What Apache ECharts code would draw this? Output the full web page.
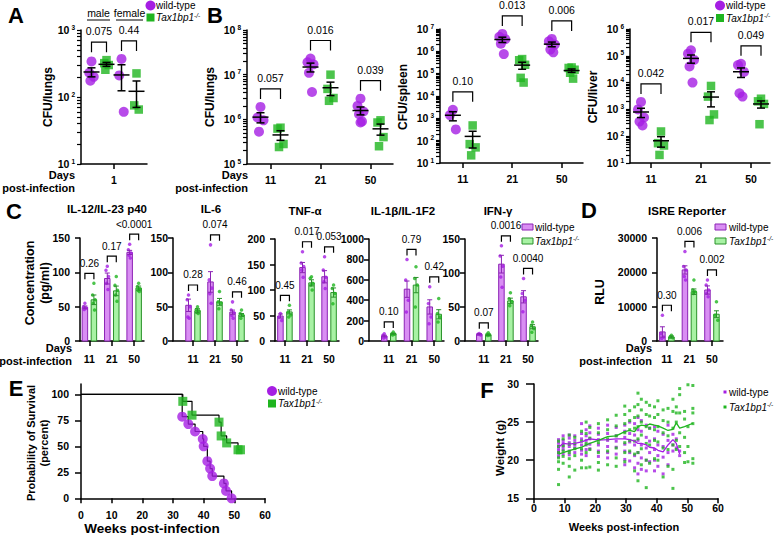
<!DOCTYPE html>
<html>
<head>
<meta charset="utf-8">
<script src="https://cdn.jsdelivr.net/npm/echarts@6.0.0/dist/echarts.min.js"></script>
<style>
html,body{margin:0;padding:0;background:#fff;}
#chart{width:775px;height:535px;}
</style>
</head>
<body>
<div id="chart"></div>
<script>
// ================= DATA =================
const dayLabels = ['11', '21', '50'];

// A: CFU/lungs, day 1, by sex
const aGroups = ['male', 'female'];
const aWt  = [[340, 230, 200, 175], [370, 210, 60]];
const aTax = [[355, 320, 300, 255], [225, 75, 65]];
const aP   = ['0.075', '0.44'];

// B: CFU per organ at days 11, 21, 50
const lungsWt  = [[1.9e6, 1.1e6, 9.5e5, 5.3e5], [2.3e7, 1.9e7, 1.7e7, 1.1e7, 4.1e6], [2.9e6, 2.0e6, 1.5e6, 1.3e6, 9.0e5, 8.5e5]];
const lungsTax = [[6.5e5, 6.2e5, 2.8e5, 2.4e5], [1.0e7, 4.8e6, 3.0e6, 2.6e6], [9.5e5, 8.5e5, 4.0e5, 2.5e5]];
const lungsP   = ['0.057', '0.016', '0.039'];
const spleenWt  = [[2.4e3, 1.4e3, 3.2e2], [6.0e6, 4.5e6, 3.5e6, 2.2e6, 7.5e5], [3.6e6, 2.8e6, 2.0e6, 1.2e6, 9.0e5]];
const spleenTax = [[480, 70, 50, 22], [4.5e5, 4.0e5, 2.5e5, 6.5e4, 4.0e4], [1.9e5, 1.8e5, 1.5e5, 1.1e5, 6.0e4]];
const spleenP   = ['0.10', '0.013', '0.006'];
const liverWt  = [[1.9e3, 1.0e3, 5.0e2, 3.5e2, 2.5e2], [1.6e5, 1.2e5, 7.0e4, 4.0e4, 1.0e4], [5.0e4, 4.5e4, 2.5e4, 4.0e3, 3.0e3]];
const liverTax = [[150, 55, 45, 20], [7.5e3, 3.0e3, 6.5e2, 4.0e2], [2.5e3, 2.0e3, 1.6e3, 2.8e2]];
const liverP   = ['0.042', '0.017', '0.049'];

// C: cytokines (pg/ml) — means, SEMs, individual mice
const il12WtMean = [49, 91, 129],  il12WtSem = [2, 8, 3];
const il12TaxMean = [60, 73, 77],  il12TaxSem = [7, 7, 3];
const il12WtDots = [[55, 50, 48, 46], [109, 103, 94, 84, 75], [141, 133, 128, 125, 121]];
const il12TaxDots = [[84, 67, 60, 55, 45], [94, 81, 74, 67, 58], [84, 79, 76, 74, 72]];
const il12P = ['0.26', '0.17', '<0.0001'];

const il6WtMean = [52, 86, 42],  il6WtSem = [9, 15, 3];
const il6TaxMean = [44, 57, 38], il6TaxSem = [3, 5, 2];
const il6WtDots = [[67, 60, 50, 35, 33], [140, 89, 77, 69, 55], [57, 45, 41, 37, 33]];
const il6TaxDots = [[50, 46, 44, 42, 40], [72, 57, 55, 47], [45, 40, 37, 33]];
const il6P = ['0.28', '0.074', '0.46'];

const tnfWtMean = [49, 144, 126], tnfWtSem = [4, 10, 12];
const tnfTaxMean = [57, 114, 95], tnfTaxSem = [4, 6, 9];
const tnfWtDots = [[54, 47, 40], [175, 153, 146, 139, 125], [165, 139, 125, 116, 103]];
const tnfTaxDots = [[70, 57, 51, 47], [126, 123, 113, 110, 100], [110, 103, 93, 73]];
const tnfP = ['0.45', '0.017', '0.053'];

const il1WtMean = [49, 508, 334], il1WtSem = [8, 80, 70];
const il1TaxMean = [72, 548, 262], il1TaxSem = [5, 75, 45];
const il1WtDots = [[72, 56, 39, 30], [800, 597, 400, 285], [531, 367, 236, 170]];
const il1TaxDots = [[89, 72, 66, 60], [728, 613, 548, 334], [416, 269, 236, 187]];
const il1P = ['0.10', '0.79', '0.42'];

const ifnWtMean = [10, 113, 65], ifnWtSem = [1, 13, 9];
const ifnTaxMean = [9, 59, 21],  ifnTaxSem = [1, 4, 3];
const ifnWtDots = [[11, 10, 9], [140, 125, 110, 94, 79], [92, 70, 60, 43]];
const ifnTaxDots = [[12, 10, 9, 8], [71, 62, 58, 52], [28, 23, 18, 13]];
const ifnP = ['0.07', '0.0016', '0.0040'];

// D: ISRE reporter (RLU)
const isreWtMean = [2640, 20700, 14850], isreWtSem = [1500, 1200, 1200];
const isreTaxMean = [1170, 14360, 7800], isreTaxSem = [300, 800, 1000];
const isreWtDots = [[7500, 2150, 1170, 700], [26090, 21690, 20700, 18760, 17780], [17780, 16320, 14850, 13870, 12900]];
const isreTaxDots = [[1660, 1170, 977], [17780, 14850, 14360, 13870], [11430, 7520, 6060]];
const isreP = ['0.30', '0.006', '0.002'];

// E: survival (weeks, percent)
const survWtWeeks = [33, 35, 37.2, 39.7, 40, 41.2, 42.1, 42.8, 46.6, 47.3, 49.1];
const survWtPct   = [78.6, 71.4, 64.3, 57.1, 50, 35.7, 28.6, 21.4, 14.3, 7.1, 0];
const survTaxWeeks = [33.2, 36.2, 45, 45.7, 47.5, 51.2, 52];
const survTaxPct   = [93.3, 80, 73.3, 60, 53.3, 46.7, 46.7];

// F: body weight (g)
const fWeeks = [8, 9.5, 11.5, 13.3, 15.5, 17, 18.2, 21, 24, 26.8, 29.6, 31.2, 32.8, 33.9, 35, 36.6, 37.7, 39.3, 40.4, 42.1, 43.7, 45.3, 46.4, 47.5, 49.1, 50.2, 51.8];
const fWt = [
  [22.7, 22.3, 21.9, 21.5, 21.2, 20.9, 20.5],
  [23.2, 22.6, 22.2, 21.8, 21.4, 20.8],
  [23.3, 22.9, 22.3, 21.8, 21.2, 20.7],
  [23.2, 22.6, 22.0, 21.6, 21.0],
  [24.8, 23.5, 22.8, 22.0, 21.3, 20.8],
  [24.0, 23.2, 22.6, 22.0, 21.4, 20.6],
  [24.5, 23.6, 22.8, 22.1, 21.5],
  [24.2, 23.4, 22.7, 22.0, 21.2, 20.5],
  [24.6, 23.5, 22.6, 21.8, 21.0, 20.3],
  [24.3, 23.2, 22.5, 21.7, 20.8],
  [24.6, 23.8, 23.0, 22.1, 21.2, 20.1, 19.4],
  [25.0, 23.5, 22.4, 21.0, 19.9],
  [24.8, 23.3, 22.0, 20.6, 19.0],
  [25.6, 24.0, 22.6, 21.0, 19.6, 18.2],
  [25.2, 23.8, 22.0, 20.3, 18.8],
  [24.6, 23.0, 21.6, 20.0, 18.6],
  [24.2, 22.5, 21.0, 19.8],
  [24.4, 22.8, 21.4, 20.0, 18.6],
  [23.8, 22.0, 20.6, 19.2],
  [23.4, 21.8, 20.4, 18.2],
  [24.6, 22.6, 21.0, 19.4],
  [23.4, 22.0, 21.2],
  [22.8, 21.6],
  [21.2, 20.6],
  [], [], []
];
const fTax = [
  [22.5, 21.8, 21.0, 20.3, 19.8, 18.8, 16.8],
  [22.8, 21.9, 21.2, 20.5, 19.6],
  [23.3, 22.1, 21.0, 20.2, 19.2, 17.8],
  [23.0, 22.2, 21.5, 20.6, 18.7],
  [23.8, 22.5, 21.5, 20.0, 19.0],
  [25.0, 23.5, 22.2, 21.0, 19.0],
  [24.3, 22.9, 21.4, 19.1],
  [24.8, 23.6, 22.3, 21.0, 19.7, 18.7],
  [25.3, 24.0, 22.8, 21.2, 19.4],
  [25.9, 24.5, 23.2, 21.6, 20.3, 19.2],
  [27.1, 26.0, 24.8, 23.6, 22.3, 21.0, 19.8],
  [26.5, 25.2, 24.0, 22.6, 21.2],
  [27.0, 25.6, 24.2, 22.5, 20.8, 18.6],
  [28.8, 27.3, 25.8, 24.4, 22.8, 21.0, 17.3],
  [28.0, 26.6, 25.0, 23.3, 21.5, 19.4],
  [27.6, 26.0, 24.4, 22.2, 20.0, 16.4],
  [27.2, 25.8, 24.2, 22.0, 19.6],
  [27.0, 25.6, 24.0, 22.6, 20.2],
  [27.8, 26.0, 24.4, 22.4, 20.0],
  [26.6, 25.2, 23.6, 21.6, 17.8],
  [26.8, 25.0, 23.2, 21.4, 19.2],
  [28.0, 26.4, 24.2, 22.0, 18.8, 16.3],
  [27.0, 26.2, 25.0, 22.6, 21.4],
  [29.4, 28.6, 26.2, 23.6, 21.8],
  [26.4, 25.4, 23.0, 21.0, 19.7],
  [29.9, 24.4, 21.8, 19.8],
  [29.8, 26.8, 26.2, 24.8, 20.2, 19.6]
];
const fWtMeanWeeks = [8, 9.5, 11.5, 13.3, 15.5, 18.2, 21, 24, 26.8, 29.6, 31.2, 32.8, 33.9, 35, 36.6, 37.7, 39.3, 40.4, 42.1, 43.7, 45.3, 46.4, 47.5];
const fWtMean      = [21.7, 22.2, 22.1, 22.2, 22.4, 22.8, 22.65, 22.7, 22.8, 22.8, 22.7, 22.5, 22.2, 22.2, 22.0, 21.7, 21.6, 21.3, 21.1, 22.0, 22.7, 22.2, 20.8];
const fTaxMeanWeeks = [8, 11.5, 15.5, 18.2, 21, 24, 26.8, 29.6, 31.2, 32.8, 33.9, 35, 36.6, 37.7, 39.3, 40.4, 42.1, 43.7, 45.3, 46.4, 47.5, 49.1, 51.8];
const fTaxMean      = [20.8, 21.25, 21.7, 22.2, 22.6, 23.1, 23.2, 23.75, 23.9, 23.75, 24.4, 24.6, 24.5, 24.75, 24.6, 24.5, 24.2, 23.9, 24.05, 24.9, 24.2, 24.4, 24.85];

// ================= STYLE / BUILD =================
const FONT = '"Liberation Sans", Arial, Helvetica, sans-serif';
const WT_C = '#a51ee3', TAX_C = '#1fb51f';
const WT_FILL = '#d98ef3', WT_EDGE = '#8c23b5';
const TAX_FILL = '#a8f2a4', TAX_EDGE = '#2a922a';
const BLACK = '#000';
const AXLINE = { color: BLACK, width: 1.5 };

const option = { animation: false, backgroundColor: '#fff', grid: [], xAxis: [], yAxis: [], series: [], graphic: [] };

const avg = a => a.reduce((s, v) => s + v, 0) / a.length;
const sem = a => { if (a.length < 2) return 0; const m = avg(a); return Math.sqrt(a.reduce((s, v) => s + (v - m) * (v - m), 0) / (a.length - 1) / a.length); };
const JIT = [0, -1, 1, -0.5, 0.5, 0];

function labelFmt(ticks, labels) {
  return v => { for (let i = 0; i < ticks.length; i++) if (Math.abs(ticks[i] - v) < 1e-6) return labels[i]; return ''; };
}

const LOGRICH = {
  b: { fontFamily: FONT, fontWeight: 'bold', fontSize: 10.5, color: BLACK, lineHeight: 13 },
  s: { fontFamily: FONT, fontWeight: 'bold', fontSize: 6.5, color: BLACK, lineHeight: 7, verticalAlign: 'top', padding: [0, 0, 0, 2] }
};

function addGrid(c) {
  const gi = option.grid.length;
  option.grid.push({ left: c.left, top: c.top, width: c.width, height: c.height, outerBoundsMode: 'none', containLabel: false });
  const xi = option.xAxis.length;
  option.xAxis.push({
    gridIndex: gi, type: 'value', min: c.xmin, max: c.xmax,
    axisLine: { show: true, onZero: false, lineStyle: AXLINE },
    axisTick: { show: true, customValues: c.xTicks, length: c.xTickLen || 5, lineStyle: AXLINE },
    axisLabel: { show: true, customValues: c.xTicks, formatter: labelFmt(c.xTicks, c.xLabels), margin: c.xMargin || 10,
      fontFamily: FONT, fontWeight: 'bold', fontSize: c.xFont || 10.5, color: BLACK },
    splitLine: { show: false }
  });
  const yi = option.yAxis.length;
  option.yAxis.push({
    gridIndex: gi, type: 'value', position: 'left', min: c.ymin, max: c.ymax,
    axisLine: { show: true, onZero: false, lineStyle: AXLINE },
    axisTick: { show: true, customValues: c.yTickMarks || c.yTicks, length: c.yTickLen || 5, lineStyle: c.yTickStyle || AXLINE },
    axisLabel: { show: true, customValues: c.yTicks, formatter: c.yFmt || (v => String(v)), margin: c.yMargin || 10,
      fontFamily: FONT, fontWeight: 'bold', fontSize: c.yFont || 10.5, color: BLACK, rich: c.yRich },
    splitLine: { show: false }
  });
  return { gi, xi, yi, ppu: c.width / (c.xmax - c.xmin), xmin: c.xmin };
}

function errSeries(ax, items, opt) {
  option.series.push({
    type: 'custom', xAxisIndex: ax.xi, yAxisIndex: ax.yi, z: 5, silent: true,
    data: items, encode: { x: 0, y: 1 },
    renderItem: (params, api) => {
      const x = api.value(0);
      const m = api.coord([x, api.value(1)]), lo = api.coord([x, api.value(2)]), hi = api.coord([x, api.value(3)]);
      const st = { stroke: opt.color || BLACK, lineWidth: opt.lw || 1.5 };
      const ch = [
        { type: 'line', shape: { x1: m[0], y1: lo[1], x2: m[0], y2: hi[1] }, style: st },
        { type: 'line', shape: { x1: m[0] - opt.cap, y1: lo[1], x2: m[0] + opt.cap, y2: lo[1] }, style: st },
        { type: 'line', shape: { x1: m[0] - opt.cap, y1: hi[1], x2: m[0] + opt.cap, y2: hi[1] }, style: st }
      ];
      if (opt.meanW) ch.push({ type: 'line', shape: { x1: m[0] - opt.meanW, y1: m[1], x2: m[0] + opt.meanW, y2: m[1] }, style: st });
      return { type: 'group', children: ch };
    }
  });
}

function bracketSeries(ax, items, pvals, opt) {
  option.series.push({
    type: 'custom', xAxisIndex: ax.xi, yAxisIndex: ax.yi, z: 6, silent: true,
    data: items.map((it, i) => [it[0], it[2], it[1], i]), encode: { x: 0, y: 1 },
    renderItem: (params, api) => {
      const a = api.coord([api.value(0), api.value(1)]);
      const b = api.coord([api.value(2), api.value(1)]);
      const top = a[1] - opt.gap;
      const idx = api.value(3);
      return { type: 'group', children: [
        { type: 'polyline', shape: { points: [[a[0], top + opt.drop], [a[0], top], [b[0], top], [b[0], top + opt.drop]] },
          style: { stroke: BLACK, lineWidth: 1.2, fill: 'none' } },
        { type: 'text', x: (a[0] + b[0]) / 2, y: top - opt.textGap,
          style: { text: pvals[idx], font: opt.font, fill: BLACK, textAlign: 'center', textVerticalAlign: 'middle', align: 'center', verticalAlign: 'middle' } }
      ] };
    }
  });
}

function logPanel(c) {
  const majors = []; for (let k = c.ymin; k <= c.ymax; k++) majors.push(k);
  const marks = []; for (let k = c.ymin; k <= c.ymax; k++) { marks.push(k); if (k < c.ymax) for (let m = 2; m <= 9; m++) marks.push(k + Math.log10(m)); }
  const ax = addGrid(Object.assign({}, c, { yTicks: majors, yTickMarks: marks, yTickLen: 4, yTickStyle: { color: BLACK, width: 1.2 },
    yFmt: v => '{b|10}{s|' + Math.round(v) + '}', yRich: LOGRICH, yMargin: 6 }));
  const wtPts = [], taxPts = [], errs = [], brs = [];
  const floor = Math.pow(10, c.ymin);
  c.cats.forEach((cx, i) => {
    const xw = cx - c.off, xt = cx + c.off;
    const lw = c.wt[i].map(v => Math.log10(v)), lt = c.tax[i].map(v => Math.log10(v));
    lw.forEach((v, j) => wtPts.push([xw + JIT[j % 6] * c.jit, v]));
    lt.forEach((v, j) => taxPts.push([xt + JIT[j % 6] * c.jit, v]));
    [[xw, c.wt[i]], [xt, c.tax[i]]].forEach(([x, arr]) => {
      const m = avg(arr), s = sem(arr);
      errs.push([x, Math.log10(m), Math.log10(Math.max(m - s, floor)), Math.log10(m + s)]);
    });
    brs.push([xw, xt, Math.max(...lw, ...lt)]);
  });
  option.series.push({ type: 'scatter', xAxisIndex: ax.xi, yAxisIndex: ax.yi, data: wtPts, symbol: 'circle', symbolSize: 10,
    itemStyle: { color: WT_C }, z: 2, silent: true });
  option.series.push({ type: 'scatter', xAxisIndex: ax.xi, yAxisIndex: ax.yi, data: taxPts, symbol: 'rect', symbolSize: 8.5,
    itemStyle: { color: TAX_C }, z: 2, silent: true });
  errSeries(ax, errs, { cap: 4, meanW: 8, lw: 1.5 });
  bracketSeries(ax, brs, c.p, { gap: 18, drop: 10, textGap: 11, font: '10.5px ' + FONT });
  return ax;
}

function barPanel(c) {
  const ax = addGrid(Object.assign({ yMargin: 10 }, c, { xTicks: [0, 1, 2], xLabels: dayLabels, xMargin: 12 }));
  const off = 4.5 / ax.ppu, jit = 1.3 / ax.ppu;
  const barData = [], dotsW = [], dotsT = [], errW = [], errT = [], brs = [];
  [0, 1, 2].forEach(i => {
    const xw = i - off, xt = i + off;
    barData.push([xw, c.wtMean[i], 0], [xt, c.taxMean[i], 1]);
    c.wtDots[i].forEach((v, j) => dotsW.push([xw + JIT[j % 6] * jit, v]));
    c.taxDots[i].forEach((v, j) => dotsT.push([xt + JIT[j % 6] * jit, v]));
    errW.push([xw, c.wtMean[i], c.wtMean[i] - c.wtSem[i], c.wtMean[i] + c.wtSem[i]]);
    errT.push([xt, c.taxMean[i], c.taxMean[i] - c.taxSem[i], c.taxMean[i] + c.taxSem[i]]);
    brs.push([xw, xt, Math.max(...c.wtDots[i], ...c.taxDots[i], c.wtMean[i] + c.wtSem[i], c.taxMean[i] + c.taxSem[i])]);
  });
  option.series.push({
    type: 'custom', xAxisIndex: ax.xi, yAxisIndex: ax.yi, z: 2, silent: true, data: barData, encode: { x: 0, y: 1 },
    renderItem: (params, api) => {
      const x = api.value(0), k = api.value(2);
      const p0 = api.coord([x, 0]), p1 = api.coord([x, api.value(1)]);
      return { type: 'rect', shape: { x: p0[0] - 2.75, y: p1[1], width: 5.5, height: p0[1] - p1[1] },
        style: { fill: k ? TAX_FILL : WT_FILL, stroke: k ? TAX_EDGE : WT_EDGE, lineWidth: 1 } };
    }
  });
  errSeries(ax, errW, { cap: 2.5, lw: 1, color: WT_EDGE });
  errSeries(ax, errT, { cap: 2.5, lw: 1, color: TAX_EDGE });
  option.series.push({ type: 'scatter', xAxisIndex: ax.xi, yAxisIndex: ax.yi, data: dotsW, symbol: 'circle', symbolSize: 3.5,
    itemStyle: { color: WT_C }, z: 4, silent: true, clip: false });
  option.series.push({ type: 'scatter', xAxisIndex: ax.xi, yAxisIndex: ax.yi, data: dotsT, symbol: 'circle', symbolSize: 3.5,
    itemStyle: { color: TAX_C }, z: 4, silent: true, clip: false });
  bracketSeries(ax, brs, c.p, { gap: 10, drop: 6, textGap: 10, font: '10px ' + FONT });
  return ax;
}

// ---- Row 1 ----
logPanel({ left: 81, top: 30, width: 66, height: 134, xmin: 0, xmax: 4.4, xTicks: [2.2], xLabels: ['1'],
  ymin: 1, ymax: 3, cats: [1.2, 3.2], off: 0.5, jit: 0.15, wt: aWt, tax: aTax, p: aP });
logPanel({ left: 247, top: 30, width: 146, height: 134, xmin: -0.47, xmax: 2.45, xTicks: [0, 1, 2], xLabels: dayLabels,
  ymin: 5, ymax: 8, cats: [0, 1, 2], off: 0.2, jit: 0.06, wt: lungsWt, tax: lungsTax, p: lungsP });
logPanel({ left: 440, top: 29, width: 143, height: 134, xmin: -0.46, xmax: 2.43, xTicks: [0, 1, 2], xLabels: dayLabels,
  ymin: 1, ymax: 7, cats: [0, 1, 2], off: 0.2, jit: 0.06, wt: spleenWt, tax: spleenTax, p: spleenP });
logPanel({ left: 630, top: 29, width: 140, height: 134, xmin: -0.42, xmax: 2.38, xTicks: [0, 1, 2], xLabels: dayLabels,
  ymin: 1, ymax: 6, cats: [0, 1, 2], off: 0.2, jit: 0.06, wt: liverWt, tax: liverTax, p: liverP });

// ---- Row 2 ----
barPanel({ left: 80, top: 238, width: 64, height: 103, xmin: -0.42, xmax: 2.44, ymin: 0, ymax: 150, yTicks: [0, 50, 100, 150],
  wtMean: il12WtMean, wtSem: il12WtSem, taxMean: il12TaxMean, taxSem: il12TaxSem, wtDots: il12WtDots, taxDots: il12TaxDots, p: il12P });
barPanel({ left: 173, top: 238, width: 75, height: 103, xmin: -0.91, xmax: 2.5, ymin: 0, ymax: 150, yTicks: [0, 50, 100, 150], yMargin: 5,
  wtMean: il6WtMean, wtSem: il6WtSem, taxMean: il6TaxMean, taxSem: il6TaxSem, wtDots: il6WtDots, taxDots: il6TaxDots, p: il6P });
barPanel({ left: 275, top: 239, width: 64, height: 102, xmin: -0.45, xmax: 2.45, ymin: 0, ymax: 200, yTicks: [0, 50, 100, 150, 200],
  wtMean: tnfWtMean, wtSem: tnfWtSem, taxMean: tnfTaxMean, taxSem: tnfTaxSem, wtDots: tnfWtDots, taxDots: tnfTaxDots, p: tnfP });
barPanel({ left: 369, top: 239, width: 75, height: 102, xmin: -0.87, xmax: 2.43, ymin: 0, ymax: 1000, yTicks: [0, 200, 400, 600, 800, 1000], yMargin: 5,
  wtMean: il1WtMean, wtSem: il1WtSem, taxMean: il1TaxMean, taxSem: il1TaxSem, wtDots: il1WtDots, taxDots: il1TaxDots, p: il1P });
barPanel({ left: 465, top: 239, width: 73, height: 102, xmin: -0.85, xmax: 2.45, ymin: 0, ymax: 150, yTicks: [0, 50, 100, 150], yMargin: 5,
  wtMean: ifnWtMean, wtSem: ifnWtSem, taxMean: ifnTaxMean, taxSem: ifnTaxSem, wtDots: ifnWtDots, taxDots: ifnTaxDots, p: ifnP });
barPanel({ left: 657, top: 238, width: 66, height: 103, xmin: -0.44, xmax: 2.49, ymin: 0, ymax: 30000, yTicks: [0, 10000, 20000, 30000],
  wtMean: isreWtMean, wtSem: isreWtSem, taxMean: isreTaxMean, taxSem: isreTaxSem, wtDots: isreWtDots, taxDots: isreTaxDots, p: isreP });

// ---- Row 3: E survival ----
const tens = [0, 10, 20, 30, 40, 50, 60];
const axE = addGrid({ left: 81, top: 384, width: 184, height: 114.3, xmin: 0, xmax: 60, xTicks: tens, xLabels: tens.map(String),
  ymin: 0, ymax: 110, yTicks: [0, 25, 50, 75, 100], yTickLen: 6, xMargin: 11, yMargin: 12 });
const wtKM = survWtWeeks.map((w, i) => [w, survWtPct[i]]);
const taxKM = survTaxWeeks.map((w, i) => [w, survTaxPct[i]]);
option.series.push({ type: 'line', xAxisIndex: axE.xi, yAxisIndex: axE.yi, data: [[0, 100]].concat(wtKM), step: 'end',
  symbol: 'none', lineStyle: { color: BLACK, width: 1.2 }, z: 2, silent: true });
option.series.push({ type: 'line', xAxisIndex: axE.xi, yAxisIndex: axE.yi, data: [[0, 100]].concat(taxKM), step: 'end',
  symbol: 'none', lineStyle: { color: BLACK, width: 1.2 }, z: 2, silent: true });
option.series.push({ type: 'scatter', xAxisIndex: axE.xi, yAxisIndex: axE.yi, data: wtKM, symbol: 'circle', symbolSize: 10,
  itemStyle: { color: WT_C }, z: 3, silent: true, clip: false });
option.series.push({ type: 'scatter', xAxisIndex: axE.xi, yAxisIndex: axE.yi, data: taxKM, symbol: 'rect', symbolSize: 9,
  itemStyle: { color: TAX_C }, z: 3, silent: true, clip: false });

// ---- Row 3: F weights ----
const axF = addGrid({ left: 534, top: 384, width: 184, height: 114.3, xmin: 0, xmax: 60, xTicks: tens, xLabels: tens.map(String),
  ymin: 15, ymax: 30, yTicks: [15, 20, 25, 30], yTickLen: 8, xMargin: 4, yMargin: 15 });
const fWtPts = [], fTaxPts = [];
fWeeks.forEach((w, i) => {
  fWt[i].forEach(v => fWtPts.push([w, v]));
  fTax[i].forEach(v => fTaxPts.push([w, v]));
});
option.series.push({ type: 'scatter', xAxisIndex: axF.xi, yAxisIndex: axF.yi, data: fWtPts, symbol: 'rect', symbolSize: 3,
  itemStyle: { color: WT_C }, z: 2, silent: true });
option.series.push({ type: 'scatter', xAxisIndex: axF.xi, yAxisIndex: axF.yi, data: fTaxPts, symbol: 'rect', symbolSize: 3,
  itemStyle: { color: TAX_C }, z: 2, silent: true });
option.series.push({ type: 'line', xAxisIndex: axF.xi, yAxisIndex: axF.yi, data: fWtMeanWeeks.map((w, i) => [w, fWtMean[i]]),
  symbol: 'none', lineStyle: { color: WT_C, width: 1.3 }, z: 3, silent: true });
option.series.push({ type: 'line', xAxisIndex: axF.xi, yAxisIndex: axF.yi, data: fTaxMeanWeeks.map((w, i) => [w, fTaxMean[i]]),
  symbol: 'none', lineStyle: { color: TAX_C, width: 1.3 }, z: 3, silent: true });

// ================= GRAPHIC TEXT / LEGENDS =================
const G = option.graphic;
function txt(x, y, text, font, align, extra) {
  extra = extra || {};
  G.push({ type: 'text', x, y, rotation: extra.rot || 0, silent: true, z: 100,
    style: { text, font, fill: BLACK, textAlign: align || 'center', textVerticalAlign: 'middle', align: align || 'center', verticalAlign: 'middle', rich: extra.rich } });
}
const TAXRICH = {
  i: { fontFamily: FONT, fontStyle: 'italic', fontSize: 10, fill: BLACK, color: BLACK, lineHeight: 12 },
  s: { fontFamily: FONT, fontStyle: 'italic', fontSize: 6.5, fill: BLACK, color: BLACK, lineHeight: 7, verticalAlign: 'top' }
};
const TAXTXT = '{i|Tax1bp1}{s|-/-}';
const REG = '10px ' + FONT;
const B = s => 'bold ' + s + 'px ' + FONT;

// panel letters
[['A', 16, 15], ['B', 215, 15], ['C', 14, 211], ['D', 589, 210], ['E', 16, 388], ['F', 487, 390]]
  .forEach(([t, x, y]) => txt(x, y, t, B(22)));

// A sex labels
txt(98.5, 13, aGroups[0], '10.5px ' + FONT);
txt(129.5, 13, aGroups[1], '10.5px ' + FONT);
G.push({ type: 'line', shape: { x1: 87, y1: 20, x2: 110, y2: 20 }, style: { stroke: BLACK, lineWidth: 1 }, silent: true });
G.push({ type: 'line', shape: { x1: 116, y1: 20, x2: 143, y2: 20 }, style: { stroke: BLACK, lineWidth: 1 }, silent: true });

// y-axis names row 1
txt(48, 97, 'CFU/lungs', B(12), 'center', { rot: Math.PI / 2 });
txt(210, 97, 'CFU/lungs', B(12), 'center', { rot: Math.PI / 2 });
txt(403, 97, 'CFU/spleen', B(12), 'center', { rot: Math.PI / 2 });
txt(593, 97, 'CFU/liver', B(12), 'center', { rot: Math.PI / 2 });

// Days / post-infection
[[75, 175, 188], [248, 175, 188], [72, 348, 361], [652, 348, 361]].forEach(([x, y1, y2]) => {
  txt(x, y1, 'Days', B(11), 'right');
  txt(x, y2, 'post-infection', B(11), 'right');
});

// legends with circle/square markers
function markerLegend(cx, y1, y2, tx, big) {
  if (big) {
    G.push({ type: 'circle', shape: { cx: cx, cy: y1, r: 5 }, style: { fill: WT_C }, silent: true });
    G.push({ type: 'rect', shape: { x: cx - 4, y: y2 - 4, width: 8, height: 8 }, style: { fill: TAX_C }, silent: true });
  } else {
    G.push({ type: 'rect', shape: { x: cx - 1.5, y: y1 - 1.5, width: 3, height: 3 }, style: { fill: WT_C }, silent: true });
    G.push({ type: 'rect', shape: { x: cx - 1.5, y: y2 - 1.5, width: 3, height: 3 }, style: { fill: TAX_C }, silent: true });
  }
  txt(tx, y1, 'wild-type', REG, 'left');
  txt(tx, y2, TAXTXT, REG, 'left', { rich: TAXRICH });
}
markerLegend(150.5, 5.5, 17.5, 156, true);
markerLegend(720, 5.5, 18, 726, true);
markerLegend(272, 391, 403.5, 278, true);
markerLegend(725, 392, 407, 729, false);

// bar legends
function barLegend(x, tx) {
  G.push({ type: 'rect', shape: { x: x, y: 224, width: 11, height: 6 }, style: { fill: WT_FILL, stroke: WT_EDGE, lineWidth: 1 }, silent: true });
  G.push({ type: 'rect', shape: { x: x, y: 238, width: 11, height: 6 }, style: { fill: TAX_FILL, stroke: TAX_EDGE, lineWidth: 1 }, silent: true });
  txt(tx, 227, 'wild-type', REG, 'left');
  txt(tx, 241, TAXTXT, REG, 'left', { rich: TAXRICH });
}
barLegend(522, 535);
barLegend(715, 729);

// C/D titles
[['IL-12/IL-23 p40', 107, 209], ['IL-6', 211, 209], ['TNF-α', 305, 211], ['IL-1β/IL-1F2', 403, 211], ['IFN-γ', 498, 211], ['ISRE Reporter', 687, 211]]
  .forEach(([t, x, y]) => txt(x, y, t, B(11.5)));

// row 2 y names
txt(30, 283, 'Concentration', B(12.5), 'center', { rot: Math.PI / 2 });
txt(45, 283, '(pg/ml)', B(12.5), 'center', { rot: Math.PI / 2 });
txt(600, 292, 'RLU', B(12.5), 'center', { rot: Math.PI / 2 });

// row 3 names
txt(31, 443, 'Probability of Survival', B(11), 'center', { rot: Math.PI / 2 });
txt(44, 443, '(percent)', B(11), 'center', { rot: Math.PI / 2 });
txt(152, 528, 'Weeks post-infection', B(13.5));
txt(500, 448, 'Weight (g)', B(11.5), 'center', { rot: Math.PI / 2 });
txt(624, 527, 'Weeks post-infection', B(11));

const chart = echarts.init(document.getElementById('chart'), null, { renderer: 'svg', width: 775, height: 535 });
chart.setOption(option);
</script>
</body>
</html>
